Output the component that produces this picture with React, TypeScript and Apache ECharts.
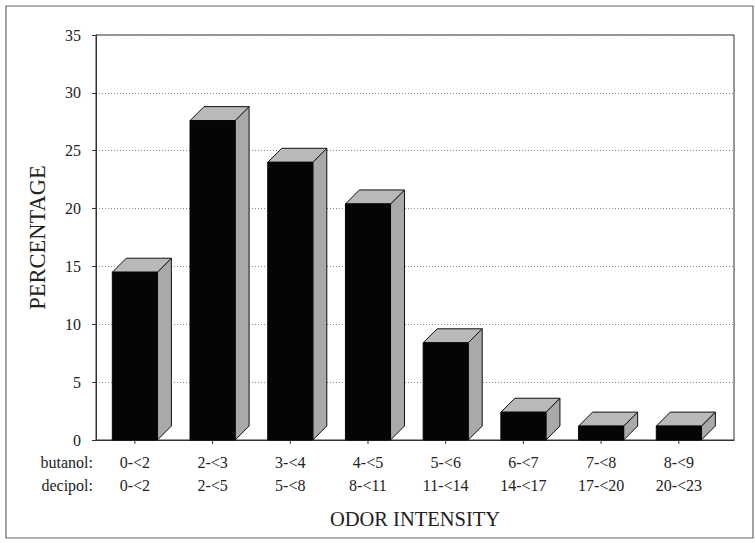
import React, { useEffect, useRef } from "react";
import * as echarts from "echarts";

const butanol = ["0-<2", "2-<3", "3-<4", "4-<5", "5-<6", "6-<7", "7-<8", "8-<9"];
const decipol = ["0-<2", "2-<5", "5-<8", "8-<11", "11-<14", "14-<17", "17-<20", "20-<23"];
const percentage = [14.5, 27.6, 24.0, 20.4, 8.4, 2.4, 1.2, 1.2];
const yTicks = [0, 5, 10, 15, 20, 25, 30, 35];

const FONT = "'Liberation Serif', 'DejaVu Serif', serif";

export default function App() {
  const ref = useRef<HTMLDivElement>(null);
  useEffect(() => {
    if (!ref.current) return;
    const chart = echarts.init(ref.current, undefined, { renderer: "svg" });
    const data = percentage.map((v, i) => [i, v]);
    const dx = 14, dy = 14;
    chart.setOption({
      animation: false,
      backgroundColor: "#fff",
      textStyle: { fontFamily: FONT },
      grid: {
        left: 96, right: 21, top: 35, bottom: 103,
        show: true, borderColor: "#333", borderWidth: 1, backgroundColor: "#fff",
      },
      xAxis: {
        type: "value",
        min: -0.5,
        max: 7.71,
        interval: 0.5,
        splitLine: { show: false },
        axisLine: { show: true, onZero: false, lineStyle: { color: "#333", width: 1 } },
        axisTick: { show: false },
        axisLabel: {
          showMinLabel: false,
          showMaxLabel: false,
          margin: 11,
          color: "#222",
          fontFamily: FONT,
          fontSize: 16,
          lineHeight: 23,
          formatter: (val: number) => {
            const i = Math.round(val);
            if (Math.abs(val - i) > 1e-6 || i < 0 || i >= butanol.length) return "";
            return butanol[i] + "\n" + decipol[i];
          },
        },
        name: "ODOR INTENSITY",
        nameLocation: "middle",
        nameGap: 68,
        nameTextStyle: { color: "#222", fontFamily: FONT, fontSize: 20.5 },
      },
      yAxis: {
        type: "value",
        min: yTicks[0],
        max: yTicks[yTicks.length - 1],
        interval: 5,
        axisLine: { show: true, onZero: false, lineStyle: { color: "#333", width: 1 } },
        axisTick: { show: true, length: 4, lineStyle: { color: "#333" } },
        axisLabel: { color: "#222", fontFamily: FONT, fontSize: 16, margin: 15 },
        splitLine: { show: true, lineStyle: { color: "#888", type: [1, 2], width: 1 } },
        name: "PERCENTAGE",
        nameLocation: "middle",
        nameGap: 47,
        nameTextStyle: { color: "#222", fontFamily: FONT, fontSize: 22.5 },
      },
      graphic: [
        {
          type: "rect",
          shape: { x: 6, y: 6, width: 747, height: 532 },
          style: { fill: "none", stroke: "#666", lineWidth: 1.2 },
          silent: true,
          z: -10,
        },
        {
          type: "text",
          x: 93, y: 462,
          style: { text: "butanol:", fill: "#222", font: `16px ${FONT}`, align: "right", verticalAlign: "middle" },
        },
        {
          type: "text",
          x: 93, y: 485,
          style: { text: "decipol:", fill: "#222", font: `16px ${FONT}`, align: "right", verticalAlign: "middle" },
        },
      ],
      series: [
        {
          type: "custom",
          clip: false,
          data,
          renderItem: (params: any, api: any) => {
            const x = api.value(0);
            const v = api.value(1);
            const base = api.coord([x, 0]);
            const top = api.coord([x, v]);
            const w = api.size([1, 0])[0] * 0.58;
            const x0 = base[0] - w / 2, x1 = base[0] + w / 2;
            const yb = base[1], yt = top[1];
            return {
              type: "group",
              children: [
                {
                  type: "polygon",
                  shape: { points: [[x1, yt], [x1 + dx, yt - dy], [x1 + dx, yb - dy], [x1, yb]] },
                  style: { fill: "#a9a9a9", stroke: "#111", lineWidth: 1 },
                },
                {
                  type: "polygon",
                  shape: { points: [[x0, yt], [x0 + dx, yt - dy], [x1 + dx, yt - dy], [x1, yt]] },
                  style: { fill: "#b9b9b9", stroke: "#111", lineWidth: 1 },
                },
                {
                  type: "rect",
                  shape: { x: x0, y: yt, width: w, height: yb - yt },
                  style: { fill: "#050505", stroke: "#050505", lineWidth: 1 },
                },
                {
                  type: "line",
                  shape: { x1: base[0], y1: yb, x2: base[0], y2: yb + 4 },
                  style: { stroke: "#333", lineWidth: 1 },
                },
              ],
            };
          },
        },
      ],
    });
    return () => chart.dispose();
  }, []);
  return <div ref={ref} style={{ width: 755, height: 543, position: "absolute", left: 0, top: 0 }} />;
}
